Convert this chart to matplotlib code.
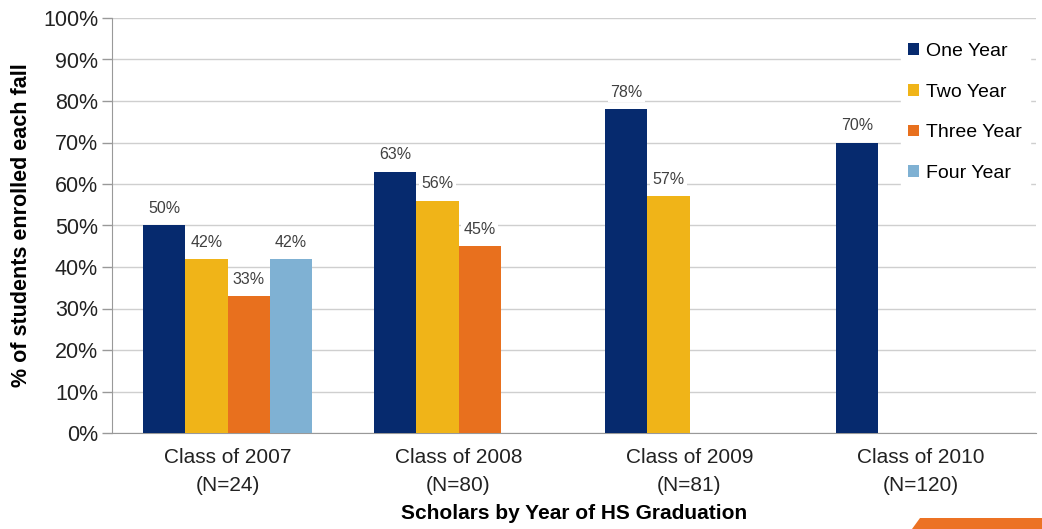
import numpy as np
import matplotlib.pyplot as plt
from matplotlib.patches import Polygon

plt.rcParams["font.family"] = ["Liberation Sans", "DejaVu Sans"]

# %% Data

classes = ["Class of 2007\n(N=24)", "Class of 2008\n(N=80)",
           "Class of 2009\n(N=81)", "Class of 2010\n(N=120)"]
series = ["One Year", "Two Year", "Three Year", "Four Year"]
one_year = [50, 63, 78, 70]
two_year = [42, 56, 57, None]
three_year = [33, 45, None, None]
four_year = [42, None, None, None]
colours = ["#062a6e", "#f0b418", "#e8701e", "#7fb1d3"]

# %% Plot

fig = plt.figure(figsize=(10.42, 5.29), dpi=100)
ax = fig.add_axes([112 / 1042, 1 - 433 / 529, 924 / 1042, 415 / 529])

x = np.arange(len(classes))
w = 0.182
vals = [one_year, two_year, three_year, four_year]

for i in range(len(series)):
    xs = []
    ys = []
    for j in range(len(classes)):
        if vals[i][j] is not None:
            xs.append(x[j] + (i - 1.5) * w)
            ys.append(vals[i][j])
    ax.bar(xs, ys, width=w, color=colours[i], label=series[i], zorder=3)
    for xx, yy in zip(xs, ys):
        ax.text(xx, yy + 4, f"{yy}%", ha="center", va="center",
                fontsize=11.5, color="#404040", zorder=4,
                bbox=dict(facecolor="white", edgecolor="none", pad=1.5))

ax.set_xlim(-0.5, 3.5)
ax.set_ylim(0, 100)
ax.set_yticks(np.arange(0, 101, 10))
ax.set_yticklabels([f"{v}%" for v in range(0, 101, 10)], fontsize=15.5,
                   color="#222222")
ax.set_xticks(x)
ax.set_xticklabels(classes, fontsize=15, color="#222222", linespacing=1.6)
ax.tick_params(axis="x", length=0, pad=11)
ax.tick_params(axis="y", length=7, color="#999999", width=1, pad=3)
ax.grid(axis="y", color="#cfcfcf", linewidth=1, zorder=0)
for s in ["top", "right"]:
    ax.spines[s].set_visible(False)
ax.spines["left"].set_color("#999999")
ax.spines["bottom"].set_color("#999999")

ax.set_ylabel("% of students enrolled each fall", fontsize=15.5,
              fontweight="bold", labelpad=8)
ax.set_xlabel("Scholars by Year of HS Graduation", fontsize=15,
              fontweight="bold", labelpad=6)

leg = ax.legend(loc="upper left", bbox_to_anchor=(0.843, 0.982),
                fontsize=14, frameon=True, framealpha=1,
                edgecolor="white", handlelength=0.55, handleheight=0.55,
                handletextpad=0.35, labelspacing=1.22, borderpad=0.4)
leg.set_zorder(5)

# orange decoration bottom right
fig.patches.append(Polygon([[912 / 1042, 0], [920 / 1042, 11 / 529],
                            [1, 11 / 529], [1, 0]],
                           closed=True, transform=fig.transFigure,
                           facecolor="#ec7224", edgecolor="none"))

plt.savefig("out.png", dpi=100)
